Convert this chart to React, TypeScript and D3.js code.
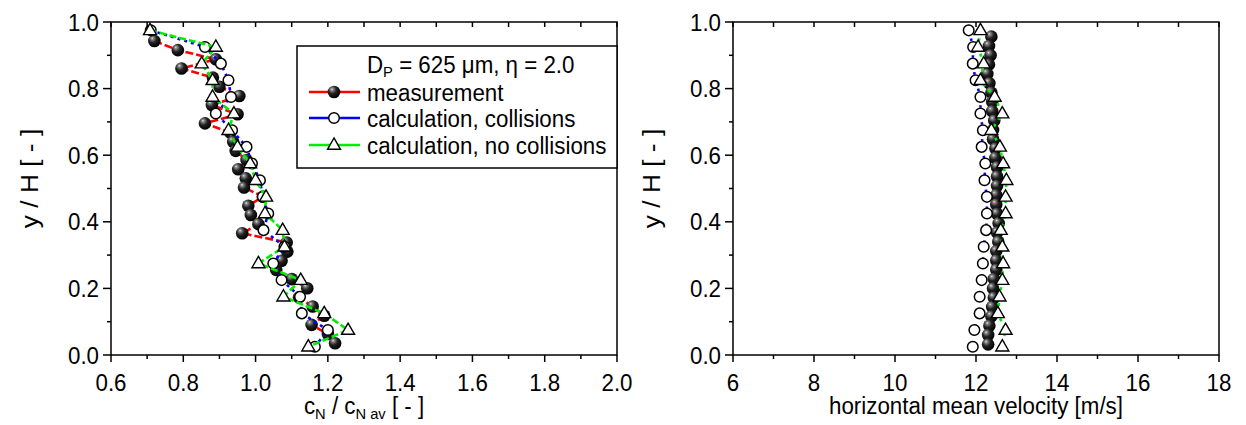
import React from 'react';
import * as d3 from 'd3';

// ---------- data ----------
const leftXMajor = [0.6, 0.8, 1.0, 1.2, 1.4, 1.6, 1.8, 2.0];
const leftXMinor = [0.7, 0.9, 1.1, 1.3, 1.5, 1.7, 1.9];
const rightXMajor = [6, 8, 10, 12, 14, 16, 18];
const rightXMinor = [7, 9, 11, 13, 15, 17];
const yMajor = [0.0, 0.2, 0.4, 0.6, 0.8, 1.0];
const yMinor = [0.1, 0.3, 0.5, 0.7, 0.9];

// calculation heights (both panels)
const calcY = [0.975, 0.925, 0.875, 0.825, 0.775, 0.725, 0.675, 0.625, 0.575, 0.525,
  0.475, 0.425, 0.375, 0.325, 0.275, 0.225, 0.175, 0.125, 0.075, 0.025];

// left panel: concentration
const leftMeasY = [0.943, 0.9155, 0.888, 0.8605, 0.833, 0.8055, 0.778, 0.7505, 0.723, 0.6955,
  0.668, 0.6405, 0.613, 0.5855, 0.558, 0.5305, 0.503, 0.4755, 0.448, 0.4205,
  0.393, 0.3655, 0.338, 0.3105, 0.283, 0.2555, 0.228, 0.2005, 0.173, 0.1455,
  0.118, 0.0905, 0.063, 0.0355];
const leftMeas = [0.72, 0.785, 0.89, 0.795, 0.882, 0.90, 0.955, 0.879, 0.95, 0.86,
  0.93, 0.938, 0.945, 0.975, 0.952, 0.973, 0.968, 1.02, 0.98, 0.987,
  1.008, 0.963, 1.086, 1.088, 1.072, 1.057, 1.10, 1.143, 1.12, 1.158,
  1.19, 1.155, 1.2, 1.22];
const leftColl = [0.71, 0.86, 0.904, 0.925, 0.932, 0.89, 0.935, 0.975, 0.99, 1.012,
  1.02, 1.035, 1.022, 1.08, 1.049, 1.072, 1.123, 1.128, 1.2, 1.164];
const leftNoColl = [0.708, 0.89, 0.851, 0.881, 0.881, 0.94, 0.925, 0.95, 0.985, 1.0,
  1.029, 1.026, 1.075, 1.08, 1.008, 1.125, 1.077, 1.19, 1.256, 1.146];

// right panel: velocity
const rightMeasY = [0.956, 0.928, 0.900, 0.872, 0.844, 0.816, 0.788, 0.760, 0.732, 0.704,
  0.676, 0.648, 0.620, 0.592, 0.564, 0.536, 0.508, 0.480, 0.452, 0.424,
  0.396, 0.368, 0.340, 0.312, 0.284, 0.256, 0.228, 0.200, 0.172, 0.144,
  0.116, 0.088, 0.060, 0.032];
const rightMeas = [12.38, 12.32, 12.36, 12.32, 12.28, 12.33, 12.38, 12.4, 12.4, 12.45,
  12.42, 12.42, 12.48, 12.48, 12.52, 12.52, 12.52, 12.5, 12.5, 12.52,
  12.56, 12.52, 12.55, 12.5, 12.5, 12.5, 12.44, 12.42, 12.44, 12.4,
  12.38, 12.33, 12.3, 12.3];
const rightColl = [11.82, 11.93, 11.92, 11.99, 12.11, 12.11, 12.17, 12.14, 12.23, 12.21,
  12.27, 12.27, 12.25, 12.19, 12.17, 12.14, 12.09, 12.09, 11.96, 11.92];
const rightNoColl = [12.11, 12.05, 12.19, 12.11, 12.46, 12.65, 12.38, 12.59, 12.67, 12.75,
  12.73, 12.73, 12.61, 12.65, 12.67, 12.65, 12.58, 12.54, 12.73, 12.65];

const legendTitle = 'D';
const legendEntries = ['measurement', 'calculation, collisions', 'calculation, no collisions'];

// ---------- styles ----------
const FONT = '"Liberation Sans", Arial, sans-serif';
const FS = 23.5;
const SUB = 15.5;
const SX = 0.95;
const RED = '#ff0000';
const BLUE = '#0000ff';
const GREEN = '#00ee00';
const Y0 = 355, Y1 = 22;

const T = ({ x, y, anchor = 'start', size = FS, rotate = 0, sx = SX, children }: any) => (
  <text
    transform={`translate(${x},${y}) rotate(${rotate}) scale(${sx},1)`}
    textAnchor={anchor}
    fontSize={size}
    fontFamily={FONT}
    fill="#000"
  >
    {children}
  </text>
);

const Ball = ({ x, y }: any) => <circle cx={x} cy={y} r={6.3} fill="url(#ballGrad)" />;
const Ring = ({ x, y }: any) => <circle cx={x} cy={y} r={5.3} fill="#fff" stroke="#000" strokeWidth={1.5} />;
const Tri = ({ x, y }: any) => {
  const s = 13;
  const h = s * 0.866;
  const p = `${x},${y - h * 0.62} ${x - s / 2},${y + h * 0.38} ${x + s / 2},${y + h * 0.38}`;
  return <polygon points={p} fill="#fff" stroke="#000" strokeWidth={1.4} strokeLinejoin="miter" />;
};

function Series({ xs, ys, sx, sy, color, dash, Marker }: any) {
  const pts: [number, number][] = xs.map((v: number, i: number) => [sx(v), sy(ys[i])]);
  const line = d3.line();
  return (
    <g>
      <path d={line(pts) || ''} fill="none" stroke={color} strokeWidth={2.6} strokeDasharray={dash} />
      {pts.map((p, i) => <Marker key={i} x={p[0]} y={p[1]} />)}
    </g>
  );
}

function Panel({ x0, x1, domain, major, minor, fmt, meas, measY, coll, noColl, title, yTitleX, dashes }: any) {
  const sx = d3.scaleLinear().domain(domain).range([x0, x1]);
  const sy = d3.scaleLinear().domain([0, 1]).range([Y0, Y1]);
  return (
    <g>
      <g>
        <Series xs={meas} ys={measY} sx={sx} sy={sy} color={RED} dash={dashes[0]} Marker={Ball} />
        <Series xs={coll} ys={calcY} sx={sx} sy={sy} color={BLUE} dash={dashes[1]} Marker={Ring} />
        <Series xs={noColl} ys={calcY} sx={sx} sy={sy} color={GREEN} dash={dashes[2]} Marker={Tri} />
      </g>
      {/* frame */}
      <rect x={x0} y={Y1} width={x1 - x0} height={Y0 - Y1} fill="none" stroke="#000" strokeWidth={1.5} />
      {/* bottom ticks */}
      {major.map((v: number) => (
        <line key={'bm' + v} x1={sx(v)} x2={sx(v)} y1={Y0} y2={Y0 + 7} stroke="#000" strokeWidth={1.5} />
      ))}
      {minor.map((v: number) => (
        <line key={'bn' + v} x1={sx(v)} x2={sx(v)} y1={Y0} y2={Y0 + 4} stroke="#000" strokeWidth={1.5} />
      ))}
      {/* top ticks (inward) */}
      {[...major, ...minor].map((v: number) => (
        <line key={'t' + v} x1={sx(v)} x2={sx(v)} y1={Y1} y2={Y1 + 5} stroke="#000" strokeWidth={1.5} />
      ))}
      {/* left ticks */}
      {yMajor.map((v) => (
        <line key={'lm' + v} x1={x0 - 8} x2={x0} y1={sy(v)} y2={sy(v)} stroke="#000" strokeWidth={1.5} />
      ))}
      {yMinor.map((v) => (
        <line key={'ln' + v} x1={x0 - 4} x2={x0} y1={sy(v)} y2={sy(v)} stroke="#000" strokeWidth={1.5} />
      ))}
      {/* tick labels */}
      {major.map((v: number) => (
        <T key={'xl' + v} x={sx(v)} y={Y0 + 36} anchor="middle">{fmt(v)}</T>
      ))}
      {yMajor.map((v) => (
        <T key={'yl' + v} x={x0 - 12} y={sy(v) + 8.5} anchor="end">{d3.format('.1f')(v)}</T>
      ))}
      {/* axis titles */}
      <T x={yTitleX} y={(Y0 + Y1) / 2 - 10} anchor="middle" rotate={-90} sx={1.12}>y / H [ - ]</T>
      {title(sx)}
    </g>
  );
}

export default function App() {
  const lx0 = 111, lx1 = 617, rx0 = 733, rx1 = 1219;
  const lg = { x: 297, y: 46, w: lx1 - 297, h: 122 };
  const rowY = [92, 118, 145];
  const markers = [Ball, Ring, Tri];
  const colors = [RED, BLUE, GREEN];
  return (
    <svg width={1246} height={425} style={{ position: 'absolute', left: 0, top: 0, background: '#fff' }}>
      <defs>
        <radialGradient id="ballGrad" cx="0.4" cy="0.35" r="0.65" fx="0.33" fy="0.28">
          <stop offset="0" stopColor="#e8e8e8" />
          <stop offset="0.15" stopColor="#8a8a8a" />
          <stop offset="0.5" stopColor="#222" />
          <stop offset="1" stopColor="#000" />
        </radialGradient>
      </defs>
      <rect x={0} y={0} width={1246} height={425} fill="#fff" />
      <Panel
        x0={lx0} x1={lx1} domain={[0.6, 2.0]} major={leftXMajor} minor={leftXMinor}
        fmt={d3.format('.1f')} meas={leftMeas} measY={leftMeasY} coll={leftColl} noColl={leftNoColl}
        yTitleX={38} dashes={['8,3', '3,4', '7,3']}
        title={(sx: any) => (
          <text transform={`translate(${(lx0 + lx1) / 2},414) scale(${SX},1)`} textAnchor="middle" fontFamily={FONT} fontSize={FS}>
            c<tspan fontSize={SUB} dy={5}>N</tspan><tspan dy={-5}> / c</tspan><tspan fontSize={SUB} dy={5}>N av</tspan><tspan dy={-5}> [ - ]</tspan>
          </text>
        )}
      />
      <Panel
        x0={rx0} x1={rx1} domain={[6, 18]} major={rightXMajor} minor={rightXMinor}
        fmt={d3.format('d')} meas={rightMeas} measY={rightMeasY} coll={rightColl} noColl={rightNoColl}
        yTitleX={660} dashes={['4,4', '2.5,6', '3,5']}
        title={() => <T x={(rx0 + rx1) / 2} y={414} anchor="middle">horizontal mean velocity [m/s]</T>}
      />
      {/* legend */}
      <rect x={lg.x} y={lg.y} width={lg.w} height={lg.h} fill="#fff" stroke="#000" strokeWidth={1.5} />
      <text transform={`translate(367,73) scale(${SX},1)`} fontFamily={FONT} fontSize={FS}>
        {legendTitle}<tspan fontSize={SUB} dy={4}>P</tspan><tspan dy={-4}> = 625 μm, η = 2.0</tspan>
      </text>
      {legendEntries.map((label, i) => {
        const M = markers[i];
        return (
          <g key={label}>
            <line x1={309} x2={360} y1={rowY[i]} y2={rowY[i]} stroke={colors[i]} strokeWidth={2.6} />
            <M x={334} y={rowY[i]} />
            <T x={367} y={rowY[i] + 8.5}>{label}</T>
          </g>
        );
      })}
    </svg>
  );
}
